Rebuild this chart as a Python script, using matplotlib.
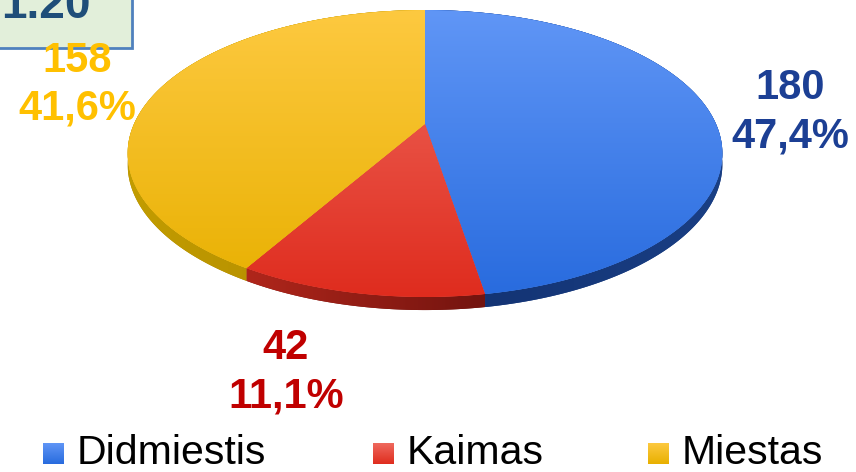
import numpy as np
import matplotlib
matplotlib.use("Agg")
import matplotlib.pyplot as plt
from matplotlib.patches import Rectangle, Polygon
from matplotlib.colors import LinearSegmentedColormap

plt.rcParams['font.family'] = ['Liberation Sans', 'DejaVu Sans']

# data
categories = ['Didmiestis', 'Kaimas', 'Miestas']
counts = [180, 42, 158]
shares = ['47,4%', '11,1%', '41,6%']

top_light = ['#6096f6', '#ef6a5e', '#fdc940']
top_dark = ['#286bde', '#df2c1e', '#e8b000']
side_left = ['#123170', '#b0261b', '#c29c00']
side_right = ['#1a3f84', '#73140f', '#ad8700']
label_col = ['#1c3f94', '#c00000', '#ffc000']

W, H = 856, 472
fig = plt.figure(figsize=(W / 100, H / 100), dpi=100)
ax = fig.add_axes([0, 0, 1, 1])
ax.set_xlim(0, W)
ax.set_ylim(H, 0)
ax.axis('off')

# tilted disc seen in perspective (pixel units)
cx, cy = 425, 124
A, B, p = 291.0, 137.4, 0.2056
depth = 10.4


def project(theta, r=1.0):
    u = r * np.sin(theta)
    v = r * np.cos(theta)
    w = 1 + p * v
    return cx + A * u / w, cy - B * v / w, w


edges = np.radians(360 * np.concatenate([[0], np.cumsum(counts)]) / sum(counts))
grad_v = np.linspace(0, 1, 256).reshape(-1, 1)
grad_h = np.linspace(0, 1, 256).reshape(1, -1)

# sides first
for i in range(len(counts)):
    th = np.linspace(edges[i], edges[i + 1], 200)
    x, y, w = project(th)
    yb = y + depth / w
    verts = np.column_stack([np.r_[x, x[::-1]], np.r_[y, yb[::-1]]])
    poly = Polygon(verts, closed=True, facecolor=side_right[i], edgecolor='none', zorder=1)
    ax.add_patch(poly)
    cmap = LinearSegmentedColormap.from_list('s', [side_left[i], side_right[i]])
    im = ax.imshow(grad_h, cmap=cmap, extent=(x.min(), x.max(), yb.max() + 1, y.min()),
                   aspect='auto', zorder=1.5)
    im.set_clip_path(poly)

# top faces
ytop, ybot = cy - B / (1 + p), cy + B / (1 - p)
for i in range(len(counts)):
    th = np.linspace(edges[i], edges[i + 1], 200)
    x, y, _ = project(th)
    verts = np.column_stack([np.r_[cx, x], np.r_[cy, y]])
    poly = Polygon(verts, closed=True, facecolor=top_dark[i], edgecolor='none', zorder=2)
    ax.add_patch(poly)
    cmap = LinearSegmentedColormap.from_list('t', [top_light[i], top_dark[i]])
    im = ax.imshow(grad_v, cmap=cmap, extent=(cx - 300, cx + 300, ybot, ytop),
                   aspect='auto', zorder=3)
    im.set_clip_path(poly)

ax.set_xlim(0, W)
ax.set_ylim(H, 0)

# data labels
label_pos = [(790, 88, 137), (286, 348, 396), (77, 61, 109)]
for (x, y1, y2), n, s, c in zip(label_pos, counts, shares, label_col):
    ax.text(x, y1, str(n), ha='center', va='center', fontsize=30,
            fontweight='bold', color=c, zorder=5)
    ax.text(x, y2, s, ha='center', va='center', fontsize=30,
            fontweight='bold', color=c, zorder=5)

# title box (cut off at top)
ax.add_patch(Rectangle((-5, -5), 137, 53, facecolor='#e2efda', edgecolor='#4f81bd',
                       linewidth=2, zorder=4))
ax.text(1, 18, '1.20', ha='left', va='baseline', fontsize=33,
        fontweight='bold', color='#1f4e79', zorder=5)

# legend
leg_x = [43, 373, 648]
for x, name, c1, c2 in zip(leg_x, categories, top_light, top_dark):
    cmap = LinearSegmentedColormap.from_list('g', [c1, c2])
    ax.imshow(grad_v, cmap=cmap, extent=(x, x + 21, 464, 443), aspect='auto', zorder=4)
    ax.text(x + 34, 464, name, ha='left', va='baseline', fontsize=29.5,
            color='black', zorder=5)

ax.set_xlim(0, W)
ax.set_ylim(H, 0)
fig.savefig('out.png', dpi=100)
